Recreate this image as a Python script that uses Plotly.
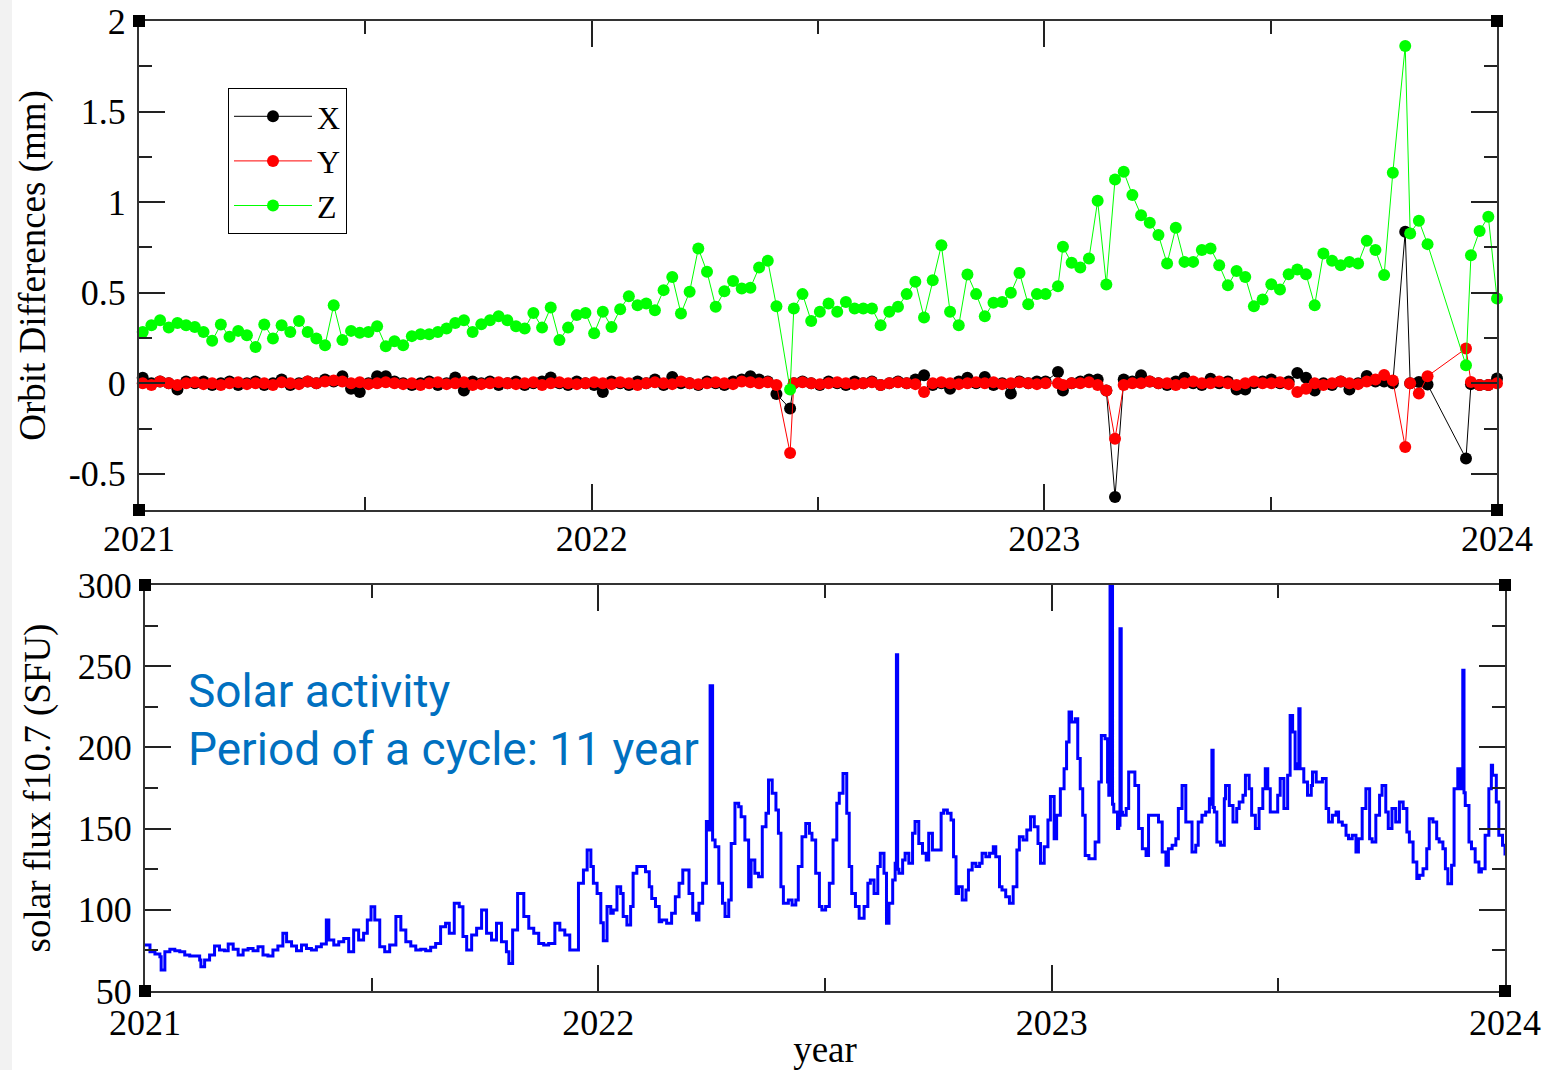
import plotly.graph_objects as go

# ---------------- Orbit differences (top panel) ----------------
# days since 2021-01-01
ORBIT_DAY_2021 = [3, 10, 17, 24, 31, 38, 45, 52, 59, 66, 73, 80, 87, 94, 101, 108, 115, 122, 129, 136,
                  143, 150, 157, 164, 171, 178, 185, 192, 199, 206, 213, 220, 227, 234, 241, 248, 255,
                  262, 269, 276, 283, 290, 297, 304, 311, 318, 325, 332, 339, 346, 353, 360, 367]
Z_2021 = [0.283, 0.32, 0.348, 0.307, 0.333, 0.32, 0.311, 0.283, 0.234, 0.324, 0.256, 0.289, 0.265, 0.2,
          0.324, 0.247, 0.32, 0.283, 0.344, 0.283, 0.247, 0.21, 0.431, 0.238, 0.289, 0.278, 0.283, 0.315,
          0.204, 0.232, 0.21, 0.26, 0.27, 0.27, 0.283, 0.302, 0.333, 0.348, 0.283, 0.326, 0.348, 0.37,
          0.348, 0.315, 0.302, 0.388, 0.307, 0.418, 0.238, 0.307, 0.376, 0.388, 0.276]
X_2021 = [0.03, 0.0, 0.01, 0.0, -0.035, 0.01, 0.0, 0.01, -0.01, 0.0, 0.01, -0.01, 0.0, 0.01, -0.01,
          0.0, 0.02, -0.01, 0.0, 0.01, 0.0, 0.02, 0.01, 0.039, -0.03, -0.048, 0.0, 0.039, 0.039, 0.01,
          0.0, -0.01, 0.0, 0.01, -0.01, 0.0, 0.031, -0.04, 0.01, 0.0, 0.01, -0.01, 0.0, 0.01, -0.01,
          0.0, 0.01, 0.031, 0.0, -0.01, 0.01, 0.0, -0.01]
Y_2021 = [0.0, -0.01, 0.01, 0.0, -0.01, 0.0, 0.005, -0.005, 0.0, -0.01, 0.0, 0.005, -0.005, 0.0, 0.0,
          -0.01, 0.005, 0.0, -0.005, 0.01, 0.0, 0.01, 0.015, 0.01, 0.0, 0.005, -0.005, 0.0, 0.005, 0.0,
          -0.005, 0.0, -0.01, 0.0, 0.005, -0.005, 0.0, 0.005, -0.01, -0.005, 0.0, 0.005, 0.0, -0.005,
          0.0, 0.005, -0.01, 0.0, 0.005, 0.0, -0.005, 0.0, 0.005]

ORBIT_DAY_2022 = [374, 381, 388, 395, 402, 409, 416, 423, 430, 437, 444, 451, 458, 465, 472, 479, 486,
                  493, 500, 507, 514, 525, 528, 535, 542, 549, 556, 563, 570, 577, 584, 591, 598, 605,
                  612, 619, 626, 633, 640, 647, 654, 661, 668, 675, 682, 689, 696, 703, 710, 717, 724]
Z_2022 = [0.394, 0.311, 0.409, 0.48, 0.431, 0.44, 0.403, 0.514, 0.587, 0.385, 0.505, 0.744, 0.615,
          0.422, 0.508, 0.565, 0.523, 0.527, 0.639, 0.676, 0.425, -0.035, 0.413, 0.492, 0.344, 0.394,
          0.44, 0.394, 0.449, 0.413, 0.413, 0.413, 0.32, 0.394, 0.422, 0.492, 0.56, 0.363, 0.569,
          0.762, 0.394, 0.32, 0.6, 0.492, 0.37, 0.444, 0.449, 0.499, 0.609, 0.436, 0.492]
X_2022 = [-0.048, 0.01, 0.0, -0.01, 0.01, 0.0, 0.02, -0.01, 0.035, 0.0, 0.0, -0.01, 0.01, 0.0, -0.01,
          0.01, 0.02, 0.039, 0.02, 0.01, -0.06, -0.14, 0.0, 0.01, 0.0, -0.01, 0.01, 0.0, -0.01, 0.01,
          0.0, 0.01, -0.01, 0.0, 0.01, 0.0, 0.02, 0.044, -0.01, 0.0, -0.03, 0.01, 0.03, 0.0, 0.035,
          -0.01, 0.0, -0.057, 0.01, 0.0, 0.01]
Y_2022 = [0.0, -0.005, 0.005, 0.0, -0.01, 0.0, 0.005, 0.0, -0.005, 0.01, 0.0, -0.005, 0.0, 0.005, 0.0,
          -0.005, 0.01, 0.005, 0.0, 0.005, -0.01, -0.385, 0.0, 0.005, 0.0, -0.005, 0.0, 0.005, 0.0,
          -0.005, 0.0, 0.005, -0.01, 0.0, 0.005, 0.0, -0.005, -0.048, 0.0, 0.005, 0.0, -0.005, 0.0,
          0.005, 0.0, 0.005, -0.005, 0.0, 0.005, 0.0, -0.005]

ORBIT_DAY_2023 = [731, 741, 745, 752, 759, 766, 773, 780, 787, 794, 801, 808, 815, 822, 829, 836, 843,
                  850, 857, 864, 871, 878, 885, 892, 899, 906, 913, 920, 927, 934, 941, 948, 955, 962,
                  969, 976, 983, 990, 997, 1004, 1011, 1021, 1025, 1032, 1039, 1070, 1074, 1081, 1088, 1095]
Z_2023 = [0.492, 0.536, 0.753, 0.665, 0.639, 0.689, 1.007, 0.545, 1.125, 1.168, 1.039, 0.928, 0.886,
          0.818, 0.661, 0.858, 0.67, 0.67, 0.735, 0.744, 0.652, 0.541, 0.62, 0.587, 0.425, 0.462,
          0.547, 0.518, 0.602, 0.628, 0.602, 0.431, 0.716, 0.676, 0.652, 0.67, 0.661, 0.786, 0.735,
          0.597, 1.162, 1.862, 0.827, 0.897, 0.768, 0.099, 0.707, 0.841, 0.919, 0.468]
X_2023 = [0.01, 0.062, -0.04, 0.0, 0.01, 0.02, 0.02, -0.04, -0.628, 0.02, 0.01, 0.044, 0.01, 0.0,
          -0.01, 0.01, 0.03, 0.0, -0.01, 0.025, 0.0, 0.01, -0.035, -0.035, 0.0, 0.01, 0.02, 0.0, 0.01,
          0.057, 0.03, -0.04, 0.0, -0.01, 0.01, -0.035, 0.0, 0.04, 0.01, 0.01, 0.0, 0.836, 0.0, 0.007,
          -0.007, -0.416, -0.005, -0.01, -0.01, 0.026]
Y_2023 = [0.0, 0.0, -0.01, 0.0, 0.0, 0.005, -0.01, -0.04, -0.306, -0.01, 0.0, 0.0, 0.01, 0.0, 0.0,
          -0.01, 0.0, 0.01, 0.0, 0.0, 0.01, 0.0, -0.01, 0.0, 0.01, 0.0, 0.0, 0.005, -0.005, -0.048,
          -0.03, 0.0, -0.01, 0.0, 0.01, 0.0, -0.005, 0.01, 0.02, 0.045, 0.015, -0.352, 0.0, -0.057,
          0.039, 0.192, 0.007, -0.01, -0.01, 0.0]

# ---------------- Solar flux f10.7 (bottom panel) ----------------
FLUX_DAY_2021 = [0, 4, 8, 12, 13, 16, 20, 24, 28, 32, 36, 40, 44, 45, 48, 52, 56, 60, 64, 67, 71, 75, 79,
                 83, 87, 91, 95, 99, 103, 107, 111, 114, 118, 122, 126, 130, 134, 138, 142, 146, 148,
                 152, 156, 160, 164, 168, 172, 176, 179, 182, 185, 189, 193, 197, 202, 206, 210, 214,
                 218, 222, 226, 230, 234, 238, 242, 245, 249, 253, 256, 259, 263, 267, 271, 275, 279,
                 283, 287, 291, 293, 296, 300, 302, 305, 309, 313, 317, 321, 325, 330, 334, 338, 342,
                 346, 349, 353, 356, 359, 361]
FLUX_2021 = [78.3, 74.2, 72.8, 71.1, 63, 74.2, 75.7, 74.8, 74.2, 72.2, 71.5, 71.5, 69.1, 65, 69.1, 72.2,
             77.7, 75.2, 74.8, 78.9, 75.7, 72.2, 75.2, 76.2, 74.8, 77.3, 72.2, 71.5, 75.2, 77.7, 85.5,
             80.4, 77.7, 74.8, 78.3, 76.2, 75.2, 77.3, 78.9, 93.7, 81.4, 78.3, 80.4, 82.4, 74.2, 87.6,
             81.4, 85.5, 93.7, 101.9, 93.7, 77.3, 74.2, 78.3, 95.8, 87.6, 80.4, 77.7, 75.2, 75.7, 74.8,
             76.9, 79.3, 89.6, 91.7, 85.5, 104, 101.9, 83.5, 75.2, 84.5, 88.6, 99.9, 85.5, 81.4, 91.7,
             80.4, 74.2, 67, 87.6, 110.1, 110.1, 95.8, 88.6, 85.5, 79.3, 78.3, 79.3, 91.7, 87.6, 84.5,
             75.2, 75.2, 116.3, 124.5, 136.8, 126.6, 116.3]

FLUX_DAY_2022 = [364, 367, 369, 372, 375, 377, 380, 383, 385, 388, 391, 393, 396, 400, 403, 406, 408,
                 411, 414, 416, 420, 424, 427, 430, 433, 436, 438, 441, 444, 446, 449, 452, 454, 455,
                 456, 457, 459, 462, 465, 467, 470, 472, 475, 478, 480, 483, 486, 488, 491, 494, 497,
                 500, 502, 505, 508, 510, 512, 514, 518, 521, 524, 526, 529, 532, 535, 537, 540, 543,
                 545, 548, 551, 554, 557, 559, 562, 565, 567, 569, 572, 575, 579, 582, 584, 587, 590,
                 592, 595, 597, 599, 602, 604, 605, 606, 607, 610, 612, 615, 618, 620, 623, 626, 629,
                 631, 634, 638, 641, 643, 646, 649, 651, 653, 655, 658, 661, 663, 666, 669, 672, 674,
                 677, 680, 683, 685, 688, 690, 693, 696, 699, 702, 704, 707, 710, 713, 716, 719, 721,
                 724, 727, 729]
FLUX_2022 = [110, 92, 81, 102, 97.8, 99.9, 114.2, 110.1, 95.8, 90.6, 102, 122.5, 126.6, 126.6, 123.5,
             114.2, 107, 102, 92.7, 93.7, 91.7, 97.8, 108.1, 116.3, 124.5, 124.5, 110.1, 97.8, 93.7,
             104, 116.3, 154.3, 149.1, 238, 238, 143, 138.9, 116.3, 104, 95.8, 106, 140.9, 165.6,
             163.5, 157.3, 143, 114.2, 130.7, 122.5, 120.4, 151.2, 159.4, 179.9, 171.7, 161.5, 147.1,
             114.2, 104, 106, 102.9, 106, 126.6, 145, 153.2, 147.1, 143, 122.5, 102, 99.9, 102, 116.3,
             143, 165.6, 171.7, 184, 159.4, 126.6, 110.1, 102, 94.8, 102, 116.3, 118.3, 110.1, 126.6,
             134.8, 122.5, 91.7, 104, 118.3, 128.6, 257, 125, 122.5, 130.7, 134.8, 128.6, 147.1, 154.3,
             140.9, 134.8, 130.7, 147.1, 136.8, 136.8, 159.4, 161.5, 159.4, 155.3, 132.7, 110.1, 114.2,
             106, 112.2, 124.5, 128.6, 126.6, 128.6, 134.8, 132.7, 134.8, 138.9, 132.7, 114.2, 112.2,
             108.1, 104, 114.2, 136.8, 145, 143, 149.1, 157.3, 151.2, 140.9, 128.6, 138.9, 155.3, 169.7]

FLUX_DAY_2023 = [732, 734, 737, 740, 742, 744, 746, 749, 751, 753, 755, 757, 760, 763, 765, 768, 770,
                 773, 775, 776, 777, 778, 779, 780, 783, 784, 785, 786, 787, 790, 792, 795, 797, 800,
                 803, 806, 808, 811, 814, 816, 819, 822, 824, 827, 830, 832, 835, 838, 840, 843, 846,
                 848, 851, 854, 857, 858, 859, 860, 861, 863, 866, 869, 870, 873, 876, 879, 881, 884,
                 886, 889, 891, 894, 897, 900, 902, 904, 906, 909, 912, 914, 917, 920, 922, 924, 926,
                 928, 929, 930, 933, 936, 939, 940, 943, 945, 948, 951, 953, 956, 959, 961, 964, 967,
                 969, 972, 975, 977, 980, 983, 986, 988, 991, 994, 996, 999, 1001, 1004, 1007, 1010,
                 1013, 1016, 1018, 1021, 1024, 1026, 1029, 1032, 1034, 1037, 1040, 1042, 1045, 1047,
                 1049, 1052, 1054, 1057, 1059, 1060, 1061, 1062, 1063, 1066, 1068, 1071, 1074, 1076,
                 1079, 1082, 1084, 1085, 1088, 1090, 1093, 1095]
FLUX_2023 = [143.8, 158.2, 174.6, 186.9, 203.3, 221.8, 215.6, 217.7, 193.1, 174.6, 158.2, 133.5, 131.5,
             131.5, 141.7, 178.7, 207.4, 205.4, 178.7, 170.5, 315, 315, 165, 160.2, 150, 152, 273, 160,
             158.2, 162.3, 184.9, 184.9, 176.6, 150, 137.6, 133.5, 158.2, 158.2, 158.2, 154.1, 135.6,
             127.4, 137.6, 139.7, 143.8, 162.3, 176.6, 154.1, 154.1, 135.6, 139.7, 154.1, 158.2, 160.2,
             168.4, 165, 198.2, 163, 160.2, 141.7, 139.7, 168.4, 176.6, 164.3, 154.1, 162.3, 166.4,
             170.5, 182.8, 174.6, 158.2, 150, 162.3, 174.6, 186.9, 174.6, 160.2, 160.2, 170.5, 180.8,
             162.3, 182.8, 219.7, 209.5, 186.9, 190, 223.8, 186.9, 178.7, 170.5, 176.6, 184.9, 178.7,
             178.7, 180.8, 162.3, 154.1, 158.2, 160.2, 154.1, 152, 145.9, 143.8, 145.9, 135.6, 143.8,
             162.3, 174.6, 143.8, 141.7, 158.2, 170.5, 176.6, 160.2, 150, 162.3, 154.1, 166.4, 162.3,
             147.9, 141.7, 129.4, 119.2, 121.2, 125.3, 137.6, 156.1, 154.1, 143.8, 141.7, 137.6, 125.3,
             116.1, 127.4, 174.6, 186.9, 174.6, 175, 247.5, 172, 164.3, 141.7, 137.6, 129.4, 123.3,
             125.3, 145.9, 174.6, 189, 182.8, 166.4, 145.9, 139.7, 133.5]

YEAR_TICKS = [2021, 2022, 2023, 2024]
YEAR_LABELS = ["2021", "2022", "2023", "2024"]
ORBIT_TICKS = [-0.5, 0, 0.5, 1, 1.5, 2]
ORBIT_LABELS = ["-0.5", "0", "0.5", "1", "1.5", "2"]
FLUX_TICKS = [50, 100, 150, 200, 250, 300]
FLUX_LABELS = ["50", "100", "150", "200", "250", "300"]

orbit_day = ORBIT_DAY_2021 + ORBIT_DAY_2022 + ORBIT_DAY_2023
orbit_x = X_2021 + X_2022 + X_2023
orbit_y = Y_2021 + Y_2022 + Y_2023
orbit_z = Z_2021 + Z_2022 + Z_2023
flux_day = FLUX_DAY_2021 + FLUX_DAY_2022 + FLUX_DAY_2023
flux = FLUX_2021 + FLUX_2022 + FLUX_2023
assert len(orbit_day) == len(orbit_x) == len(orbit_y) == len(orbit_z)
assert len(flux_day) == len(flux)

orbit_t = [2021 + d / 365.0 for d in orbit_day]
flux_t = [2021 + d / 365.0 for d in flux_day]

W, H = 1559, 1070
SERIF = "Liberation Serif"

fig = go.Figure()
for name, vals, col in [("X", orbit_x, "#000000"), ("Y", orbit_y, "#ff0000"), ("Z", orbit_z, "#00ff00")]:
    fig.add_trace(go.Scatter(x=orbit_t, y=vals, mode="lines+markers", name=name,
                             line=dict(color=col, width=1),
                             marker=dict(color=col, size=12, symbol="circle"),
                             cliponaxis=False, xaxis="x", yaxis="y"))

fig.add_trace(go.Scatter(x=flux_t, y=flux, mode="lines", showlegend=False,
                         line=dict(color="#0000ff", width=3, shape="hv"), xaxis="x2", yaxis="y2"))

def px_x(p):
    return p / W

def px_y(p):
    return 1 - p / H

tick_font = dict(family=SERIF, size=36, color="black")
title_font = dict(family=SERIF, size=37, color="black")
common_axis = dict(showline=True, linecolor="#333333", linewidth=2, mirror="ticks",
                   ticks="inside", ticklen=26, tickwidth=2, tickcolor="#222222",
                   showgrid=False, zeroline=False, automargin=False, tickfont=tick_font)
minor_style = dict(ticklen=13, tickwidth=2, tickcolor="#222222", ticks="inside")

fig.update_layout(
    width=W, height=H,
    margin=dict(l=0, r=0, t=0, b=0),
    font=dict(family=SERIF, color="black"),
    paper_bgcolor="white", plot_bgcolor="white",
    showlegend=True,
    legend=dict(x=px_x(228), y=px_y(88), xanchor="left", yanchor="top",
                bordercolor="black", borderwidth=1, bgcolor="white",
                font=dict(family=SERIF, size=32, color="black"),
                itemwidth=78, tracegroupgap=0),
    xaxis=dict(domain=[px_x(139), px_x(1497)], range=[2021, 2024], anchor="y",
               tickvals=YEAR_TICKS, ticktext=YEAR_LABELS, ticklabelstandoff=-4,
               minor=dict(tickvals=[2021.5, 2022.5, 2023.5], **minor_style),
               **common_axis),
    yaxis=dict(domain=[px_y(510), px_y(21)], range=[-0.7, 2], anchor="x",
               tickvals=ORBIT_TICKS, ticktext=ORBIT_LABELS, ticklabelstandoff=4,
               minor=dict(tickvals=[-0.25, 0.25, 0.75, 1.25, 1.75], **minor_style),
               title=dict(text="Orbit Differences (mm)", standoff=12, font=title_font),
               **common_axis),
    xaxis2=dict(domain=[px_x(145), px_x(1505)], range=[2021, 2024], anchor="y2",
                tickvals=YEAR_TICKS, ticktext=YEAR_LABELS, ticklabelstandoff=-1,
                minor=dict(tickvals=[2021.5, 2022.5, 2023.5], **minor_style),
                title=dict(text="year", standoff=2, font=title_font),
                **common_axis),
    yaxis2=dict(domain=[px_y(991), px_y(585)], range=[50, 300], anchor="x2",
                tickvals=FLUX_TICKS, ticktext=FLUX_LABELS, ticklabelstandoff=4,
                minor=dict(tickvals=[75, 125, 175, 225, 275], **minor_style),
                title=dict(text="solar flux f10.7 (SFU)", standoff=16, font=title_font),
                **common_axis),
)

# light grey strip on the left edge of the slide
shapes = [dict(type="rect", xref="paper", yref="paper", x0=0, x1=px_x(12), y0=0, y1=1,
               fillcolor="#f2f2f2", line=dict(width=0), layer="below")]
# small black corner squares (xmgrace style)
for xr, yr in [("x", "y"), ("x2", "y2")]:
    for ax in (0, 1):
        for ay in (0, 1):
            shapes.append(dict(type="rect", xref=f"{xr} domain", yref=f"{yr} domain",
                               xsizemode="pixel", ysizemode="pixel", xanchor=ax, yanchor=ay,
                               x0=-6, x1=6, y0=-6, y1=6, fillcolor="black",
                               line=dict(width=0), layer="above"))
fig.update_layout(shapes=shapes)

BLUE_TXT = "#0070C0"
SANS = "Roboto"
fig.add_annotation(text="Solar activity", xref="paper", yref="paper",
                   x=px_x(186), y=px_y(691), xanchor="left", yanchor="middle", showarrow=False,
                   font=dict(family=SANS, size=46, color=BLUE_TXT))
fig.add_annotation(text="Period of a cycle: 11 year", xref="paper", yref="paper",
                   x=px_x(186), y=px_y(749), xanchor="left", yanchor="middle", showarrow=False,
                   font=dict(family=SANS, size=46, color=BLUE_TXT))

fig.write_html("out.html")
